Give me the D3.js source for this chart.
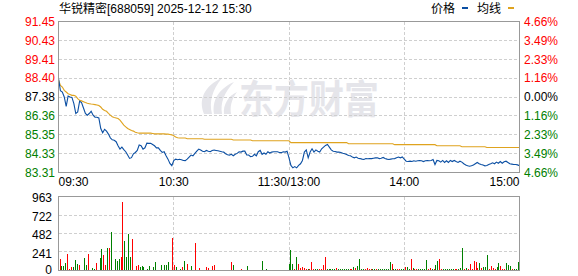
<!DOCTYPE html>
<html>
<head>
<meta charset="utf-8">
<script src="https://cdn.jsdelivr.net/npm/d3@7"></script>
<style>
  body { margin: 0; background: #fff; }
  svg { display: block; font-family: "Liberation Sans", Arial, "Noto Sans CJK SC", sans-serif; }
</style>
</head>
<body>
<svg id="chart" width="578" height="276"></svg>
<script>
const title = "华锐精密[688059] 2025-12-12 15:30";
const prevClose = 87.38;
const priceTicks = [91.45, 90.43, 89.41, 88.40, 87.38, 86.36, 85.35, 84.33, 83.31];
const pctTicks = ["4.66%", "3.49%", "2.33%", "1.16%", "0.00%", "1.16%", "2.33%", "3.49%", "4.66%"];
const volTicks = [963, 722, 482, 241, 0];
const timeTicks = [0, 60, 120, 180, 240];
const timeLabels = ["09:30", "10:30", "11:30/13:00", "14:00", "15:00"];

// one value per minute, 09:30-11:30 then 13:01-15:00 (241 points)
const prices = [
  88.38, 87.72, 87.65, 87.38, 86.88, 87.43, 87.38, 87.36, 87.02, 86.49,
  86.58, 87.15, 87.08, 86.79, 86.49, 86.40, 86.49, 86.61, 86.40, 86.29,
  86.29, 86.25, 85.68, 85.45, 85.64, 85.54, 85.38, 85.18, 85.07, 85.05,
  84.97, 84.75, 84.57, 84.68, 84.54, 84.43, 84.25, 84.07, 84.11, 84.32,
  84.39, 84.50, 84.79, 84.75, 84.57, 84.64, 84.89, 84.88, 84.88, 84.82,
  84.75, 84.64, 84.64, 84.50, 84.39, 84.43, 84.21, 84.03, 83.80, 83.68,
  83.95, 84.03, 84.00, 84.02, 84.00, 83.96, 83.95, 84.03, 84.14, 84.25,
  84.21, 84.34, 84.46, 84.57, 84.52, 84.46, 84.43, 84.50, 84.46, 84.43,
  84.50, 84.52, 84.50, 84.48, 84.46, 84.43, 84.41, 84.32, 84.27, 84.25,
  84.29, 84.21, 84.29, 84.34, 84.43, 84.41, 84.46, 84.46, 84.25, 84.25,
  84.16, 84.18, 84.29, 84.21, 84.43, 84.50, 84.29, 84.36, 84.29, 84.43,
  84.36, 84.41, 84.43, 84.43, 84.43, 84.39, 84.38, 84.43, 84.41, 84.46,
  84.10, 83.69, 83.56, 83.63, 83.56, 83.69, 83.78, 83.96, 84.41, 84.53,
  84.10, 84.41, 84.59, 84.41, 84.53, 84.46, 84.41, 84.59, 84.68, 84.77,
  84.82, 84.68, 84.53, 84.46, 84.44, 84.41, 84.41, 84.39, 84.35, 84.32,
  84.28, 84.23, 84.21, 84.14, 84.10, 84.14, 84.08, 84.06, 84.03, 84.01,
  84.06, 84.05, 84.06, 84.06, 84.08, 84.10, 84.10, 84.06, 84.08, 84.12,
  84.06, 84.03, 84.01, 84.03, 84.05, 84.06, 84.10, 84.14, 84.10, 84.15,
  84.03, 83.92, 83.90, 83.92, 83.90, 83.94, 83.92, 83.94, 83.96, 83.94,
  83.90, 83.94, 83.96, 83.94, 83.96, 84.01, 83.74, 83.96, 83.94, 83.87,
  83.96, 83.85, 83.94, 83.85, 83.96, 83.90, 83.96, 83.90, 83.85, 83.92,
  83.87, 83.78, 83.71, 83.67, 83.65, 83.67, 83.71, 83.78, 83.85, 83.78,
  83.74, 83.71, 83.67, 83.69, 83.74, 83.78, 83.83, 83.78, 83.87, 83.81,
  83.90, 83.81, 83.89, 83.92, 83.85, 83.78, 83.76, 83.74, 83.74, 83.72,
  83.67
];

const avgPrices = [
  88.30, 88.01, 87.92, 87.74, 87.65, 87.56, 87.52, 87.47, 87.47, 87.42,
  87.29, 87.20, 87.17, 87.13, 87.08, 87.04, 87.02, 87.00, 86.99, 86.97,
  86.95, 86.92, 86.84, 86.72, 86.65, 86.61, 86.50, 86.40, 86.31, 86.27,
  86.25, 86.22, 86.13, 86.00, 85.86, 85.77, 85.68, 85.63, 85.57, 85.54,
  85.48, 85.45, 85.43, 85.43, 85.43, 85.43, 85.43, 85.43, 85.43, 85.41,
  85.39, 85.39, 85.39, 85.39, 85.39, 85.39, 85.38, 85.38, 85.36, 85.34,
  85.29, 85.22, 85.18, 85.17, 85.17, 85.17, 85.17, 85.13, 85.13, 85.13,
  85.13, 85.13, 85.13, 85.13, 85.13, 85.13, 85.10, 85.10, 85.10, 85.10,
  85.10, 85.10, 85.10, 85.10, 85.10, 85.10, 85.10, 85.10, 85.10, 85.10,
  85.10, 85.06, 85.06, 85.06, 85.06, 85.06, 85.06, 85.06, 85.06, 85.06,
  85.06, 85.02, 85.02, 85.02, 85.02, 85.02, 85.02, 85.02, 85.02, 85.02,
  85.02, 85.02, 85.02, 85.02, 85.02, 85.02, 85.02, 85.02, 85.02, 85.02,
  85.02, 84.92, 84.92, 84.92, 84.92, 84.92, 84.92, 84.92, 84.92, 84.92,
  84.92, 84.92, 84.92, 84.92, 84.92, 84.92, 84.92, 84.92, 84.92, 84.92,
  84.92, 84.92, 84.92, 84.92, 84.92, 84.92, 84.92, 84.92, 84.92, 84.92,
  84.92, 84.86, 84.86, 84.86, 84.86, 84.86, 84.86, 84.86, 84.86, 84.86,
  84.86, 84.86, 84.86, 84.86, 84.86, 84.86, 84.86, 84.86, 84.86, 84.86,
  84.86, 84.86, 84.86, 84.86, 84.86, 84.81, 84.81, 84.81, 84.81, 84.81,
  84.81, 84.81, 84.81, 84.81, 84.81, 84.81, 84.81, 84.81, 84.81, 84.81,
  84.81, 84.81, 84.81, 84.81, 84.81, 84.81, 84.81, 84.75, 84.75, 84.75,
  84.75, 84.75, 84.75, 84.75, 84.75, 84.75, 84.75, 84.75, 84.75, 84.75,
  84.70, 84.70, 84.70, 84.70, 84.70, 84.70, 84.70, 84.70, 84.70, 84.70,
  84.70, 84.70, 84.70, 84.66, 84.66, 84.66, 84.66, 84.66, 84.66, 84.66,
  84.66, 84.66, 84.66, 84.66, 84.66, 84.66, 84.66, 84.66, 84.66, 84.66,
  84.66
];

const volumes = [
  144, 65, 57, 100, 209, 26, 52, 52, 139, 91,
  78, 13, 13, 157, 78, 218, 13, 35, 26, 100,
  13, 166, 274, 196, 70, 288, 288, 505, 13, 144,
  118, 144, 174, 889, 379, 174, 470, 174, 405, 13,
  65, 78, 52, 65, 52, 13, 26, 65, 13, 52,
  105, 13, 13, 78, 13, 78, 78, 113, 13, 418,
  70, 52, 13, 26, 52, 118, 13, 91, 13, 65,
  13, 353, 13, 39, 13, 13, 13, 52, 39, 13,
  65, 78, 13, 13, 13, 13, 13, 13, 13, 13,
  105, 78, 13, 13, 13, 26, 13, 13, 65, 13,
  13, 13, 13, 13, 13, 13, 118, 13, 26, 13,
  13, 13, 13, 13, 13, 13, 13, 13, 13, 13,
  91, 265, 82, 17, 173, 82, 35, 43, 30, 17,
  17, 17, 108, 17, 17, 17, 17, 17, 69, 173,
  17, 17, 17, 17, 17, 30, 17, 17, 17, 17,
  17, 17, 17, 17, 43, 30, 56, 147, 17, 17,
  17, 30, 17, 17, 17, 17, 17, 17, 17, 17,
  17, 17, 17, 108, 82, 17, 17, 17, 17, 17,
  17, 43, 43, 17, 147, 30, 17, 17, 17, 17,
  17, 17, 134, 17, 30, 17, 17, 69, 121, 147,
  17, 17, 17, 17, 17, 17, 17, 17, 17, 17,
  30, 291, 17, 30, 17, 82, 17, 121, 108, 30,
  95, 30, 43, 43, 200, 17, 56, 30, 17, 43,
  95, 56, 17, 17, 95, 69, 56, 17, 17, 17,
  108
];

// 1 = red bar, 0 = green bar
const volUp = [
  1, 0, 0, 0, 1, 1, 1, 0, 0, 0,
  1, 0, 0, 0, 0, 1, 0, 0, 0, 1,
  0, 0, 0, 1, 1, 0, 1, 0, 1, 0,
  0, 0, 1, 1, 0, 0, 0, 0, 1, 1,
  1, 1, 0, 0, 0, 1, 0, 0, 1, 0,
  0, 0, 0, 0, 1, 0, 0, 0, 1, 1,
  1, 0, 1, 0, 1, 0, 1, 1, 0, 0,
  1, 1, 0, 1, 0, 0, 0, 1, 1, 0,
  1, 1, 0, 0, 0, 1, 0, 0, 1, 1,
  1, 0, 1, 0, 1, 1, 0, 1, 0, 0,
  1, 0, 0, 1, 1, 1, 0, 1, 0, 1,
  0, 1, 1, 1, 0, 1, 1, 1, 1, 0,
  0, 0, 0, 1, 0, 1, 1, 1, 1, 1,
  0, 1, 1, 1, 0, 0, 1, 1, 1, 1,
  0, 0, 0, 0, 0, 1, 0, 0, 0, 0,
  0, 0, 1, 1, 0, 1, 0, 0, 0, 0,
  1, 1, 1, 1, 0, 0, 1, 0, 0, 0,
  0, 0, 0, 0, 1, 0, 0, 1, 1, 0,
  0, 1, 0, 0, 1, 0, 1, 1, 0, 0,
  0, 0, 0, 1, 1, 0, 1, 0, 0, 1,
  1, 0, 0, 0, 0, 0, 0, 1, 1, 0,
  0, 0, 1, 0, 1, 1, 1, 1, 1, 1,
  0, 1, 0, 0, 0, 1, 1, 1, 1, 0,
  0, 1, 1, 1, 0, 0, 0, 1, 0, 0,
  0
];

const RED = "#ff0000";
const GREEN = "#008000";
const BLACK = "#000000";
const plotLeft = 58.5, plotRight = 519.5;
const priceTop = 21.5, priceBottom = 172.5;
const volTop = 196.5, volBottom = 270.5;

const svg = d3.select("#chart");

const x = d3.scaleLinear().domain([0, 240]).range([plotLeft, plotRight]);
const xBar = d3.scaleLinear().domain([0, 240]).range([plotLeft + 1.5, plotRight - 1.5]);
const y = d3.scaleLinear().domain([priceTicks[8], priceTicks[0]]).range([priceBottom, priceTop]);
const yVol = d3.scaleLinear().domain([0, volTicks[0]]).range([volBottom, volTop]);

const labelColor = (v) => (v > prevClose ? RED : v < prevClose ? GREEN : BLACK);

// watermark
const wm = svg.append("g").attr("fill", "#e5e5ea");
wm.selectAll("path")
  .data([
    "M204 114 C198 100 204 86 222 78 C212 90 209 102 212 114 Z",
    "M214 114 C212 101 218 89 234 82 C224 93 220 103 222 114 Z",
    "M224 114 C223 105 228 96 237 92 C231 100 230 107 231 114 Z"
  ])
  .join("path")
  .attr("d", (d) => d);
wm.append("text")
  .attr("transform", "translate(239,113) scale(1,1.12)")
  .style("font-family", "'Noto Sans CJK SC'")
  .style("font-weight", "700")
  .style("font-size", "35px")
  .text("东方财富");

// grids
function grid(g, ys, top, bottom) {
  g.selectAll("line.h")
    .data(ys)
    .join("line")
    .attr("class", "h")
    .attr("x1", plotLeft)
    .attr("x2", plotRight)
    .attr("y1", (d) => Math.round(d - 0.5) + 0.5)
    .attr("y2", (d) => Math.round(d - 0.5) + 0.5);
  g.selectAll("line.v")
    .data(timeTicks.slice(1, 4))
    .join("line")
    .attr("class", "v")
    .attr("x1", (d) => Math.round(x(d) - 0.5) + 0.5)
    .attr("x2", (d) => Math.round(x(d) - 0.5) + 0.5)
    .attr("y1", top)
    .attr("y2", bottom);
}

const gridG = svg.append("g")
  .attr("stroke", "#cfcfcf")
  .attr("stroke-dasharray", "3,2")
  .attr("shape-rendering", "crispEdges");
grid(gridG.append("g"), priceTicks.slice(1, 8).map(y), priceTop, priceBottom);
grid(gridG.append("g"), volTicks.slice(1, 4).map(yVol), volTop, volBottom);

// volume bars
svg.append("g")
  .attr("shape-rendering", "crispEdges")
  .selectAll("rect")
  .data(volumes)
  .join("rect")
  .attr("x", (d, i) => Math.round(xBar(i) - 0.5))
  .attr("width", 1)
  .attr("y", (d) => Math.round(yVol(d)))
  .attr("height", (d) => volBottom - 0.5 - Math.round(yVol(d)))
  .attr("fill", (d, i) => (volUp[i] ? RED : GREEN));

// price and average lines
const line = d3.line().x((d, i) => x(i)).y((d) => y(d));
svg.append("path")
  .datum(avgPrices)
  .attr("d", line)
  .attr("fill", "none")
  .attr("stroke", "#dfa31e")
  .attr("stroke-width", 1.1);
svg.append("path")
  .datum(prices)
  .attr("d", line)
  .attr("fill", "none")
  .attr("stroke", "#0b4fa3")
  .attr("stroke-width", 1.1);

// frames
svg.append("g")
  .attr("fill", "none")
  .attr("stroke", "#999")
  .attr("shape-rendering", "crispEdges")
  .selectAll("rect")
  .data([[priceTop, priceBottom], [volTop, volBottom]])
  .join("rect")
  .attr("x", plotLeft)
  .attr("y", (d) => d[0])
  .attr("width", plotRight - plotLeft)
  .attr("height", (d) => d[1] - d[0]);

// left price labels
svg.append("g")
  .style("font-size", "12px")
  .attr("text-anchor", "end")
  .selectAll("text")
  .data(priceTicks)
  .join("text")
  .attr("x", 55)
  .attr("y", (d) => y(d))
  .attr("dy", "0.36em")
  .attr("fill", labelColor)
  .text((d) => d.toFixed(2));

// right percent labels
svg.append("g")
  .style("font-size", "12px")
  .selectAll("text")
  .data(pctTicks)
  .join("text")
  .attr("x", 524)
  .attr("y", (d, i) => y(priceTicks[i]))
  .attr("dy", "0.36em")
  .attr("fill", (d, i) => labelColor(priceTicks[i]))
  .text((d) => d);

// volume labels
svg.append("g")
  .style("font-size", "12px")
  .attr("text-anchor", "end")
  .selectAll("text")
  .data(volTicks)
  .join("text")
  .attr("x", 52)
  .attr("y", (d) => Math.min(yVol(d) + 1.5, 269.5))
  .attr("dy", "0.36em")
  .attr("fill", "#000")
  .text((d) => d);

// time labels
svg.append("g")
  .style("font-size", "12px")
  .selectAll("text")
  .data(timeTicks)
  .join("text")
  .attr("x", (d) => x(d))
  .attr("y", 186)
  .attr("text-anchor", (d, i) => (i == 0 ? "start" : i == 4 ? "end" : "middle"))
  .attr("fill", "#000")
  .text((d, i) => timeLabels[i]);

// title and legend
svg.append("text")
  .attr("x", 59)
  .attr("y", 13)
  .style("font-size", "12px")
  .text(title);

const legend = svg.append("g").style("font-size", "12px");
legend.append("text").attr("x", 431).attr("y", 13).text("价格");
legend.append("rect").attr("x", 462).attr("y", 7).attr("width", 6).attr("height", 2).attr("fill", "#0b4fa3");
legend.append("text").attr("x", 477).attr("y", 13).text("均线");
legend.append("rect").attr("x", 508).attr("y", 7).attr("width", 6).attr("height", 2).attr("fill", "#dfa31e");
</script>
</body>
</html>
